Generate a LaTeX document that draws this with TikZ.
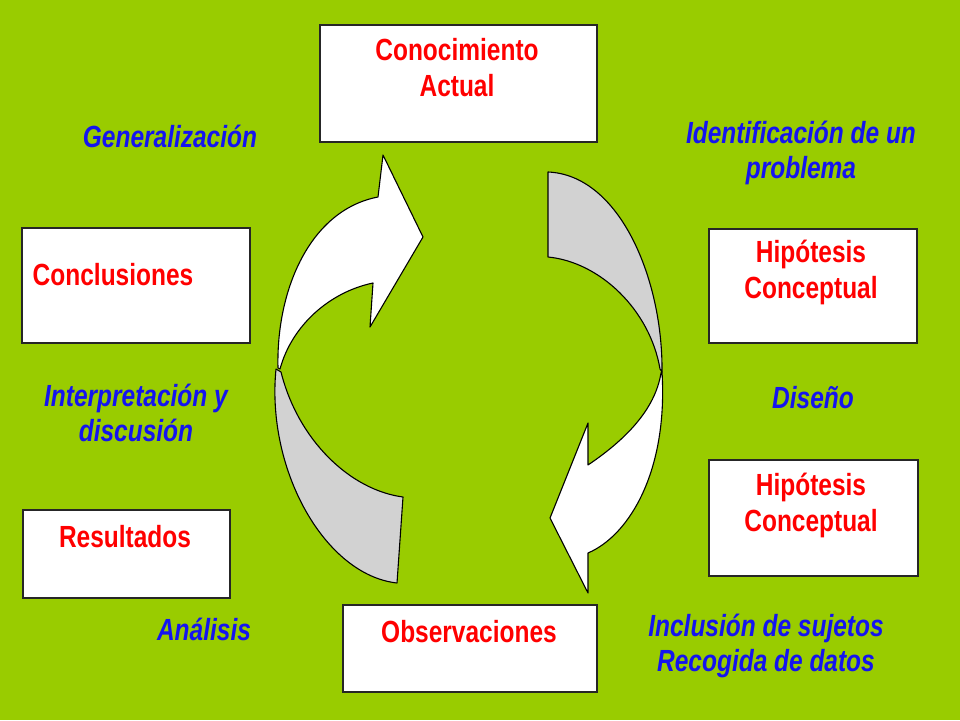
\documentclass[tikz,border=0pt]{standalone}
\usepackage{fontspec}
\setmainfont{Liberation Sans}[FakeStretch=0.8]
\definecolor{bggreen}{RGB}{153,204,0}
\definecolor{txtred}{RGB}{255,0,0}
\definecolor{txtblue}{RGB}{20,20,240}
\definecolor{ribbongray}{RGB}{210,210,210}
\begin{document}
\begin{tikzpicture}[x=1pt,y=-1pt,
  box/.style={draw=black!85,line width=1.8pt,fill=white},
  redtxt/.style={text=txtred,font=\fontsize{30.6}{36}\selectfont\bfseries,align=center,anchor=base,inner sep=0pt},
  bluetxt/.style={text=txtblue,font=\fontsize{30.6}{35}\selectfont\bfseries\itshape,align=center,anchor=base,inner sep=0pt},
  ribbon/.style={draw=black,line width=1.1pt,line join=round}]
\fill[bggreen] (0,0) rectangle (960,720);
\useasboundingbox (0,0) rectangle (960,720);
% boxes
\draw[box] (320,25) rectangle (597,142) coordinate (bConocimiento);
\draw[box] (22,228) rectangle (250,343) coordinate (bConclusiones);
\draw[box] (23,510) rectangle (230,598) coordinate (bResultados);
\draw[box] (709,229) rectangle (917,343) coordinate (bHipA);
\draw[box] (709,460) rectangle (918,576) coordinate (bHipB);
\draw[box] (343,605) rectangle (597,692) coordinate (bObs);
% box texts (anchor = baseline of last line)
\node[redtxt] (tCon) at (457,96) {Conocimiento\\Actual};
\node[redtxt] (tConcl) at (113,285) {Conclusiones};
\node[redtxt] (tRes) at (125,547) {Resultados};
\node[redtxt] (tHipA) at (811,298) {Hipótesis\\Conceptual};
\node[redtxt] (tHipB) at (811,531) {Hipótesis\\Conceptual};
\node[redtxt] (tObs) at (469,642) {Observaciones};
% blue labels
\node[bluetxt] (lGen) at (170,147) {Generalización};
\node[bluetxt] (lInt) at (136,441) {Interpretación y\\discusión};
\node[bluetxt] (lAna) at (204,640) {Análisis};
\node[bluetxt] (lIde) at (801,178) {Identificación de un\\problema};
\node[bluetxt] (lDis) at (813,408) {Diseño};
\node[bluetxt] (lInc) at (766,671) {Inclusión de sujetos\\Recogida de datos};
% left ribbon arrow
\filldraw[ribbon,fill=ribbongray] (276,369) .. controls (266,470) and (325,575) .. (397,583)
  -- (403,497) .. controls (350,490) and (298,440) .. (281,372) -- cycle;
\filldraw[ribbon,fill=white] (278,368) .. controls (276,290) and (310,210) .. (378,197)
  -- (383,155) -- (423,237) -- (370,327) -- (373,283)
  .. controls (330,292) and (292,325) .. (280,369) -- cycle;
% right ribbon arrow
\filldraw[ribbon,fill=ribbongray] (548,172) .. controls (620,175) and (663,280) .. (662,372)
  -- (660,369) .. controls (650,310) and (600,262) .. (548,257) -- cycle;
\filldraw[ribbon,fill=white] (662,372) .. controls (668,470) and (630,535) .. (588,553)
  -- (588,593) -- (550,518) -- (588,423) -- (588,465)
  .. controls (625,440) and (655,410) .. (661,373) -- cycle;
\end{tikzpicture}
\end{document}
